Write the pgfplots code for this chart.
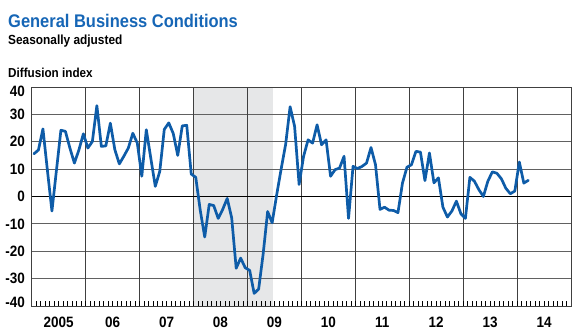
\documentclass[border=0pt]{standalone}
\usepackage{pgfplots}
\pgfplotsset{compat=1.18}
\usepackage{fontspec}
\setmainfont{Liberation Sans}[FakeStretch=0.9]
\definecolor{lineblue}{RGB}{14,92,168}
\definecolor{titleblue}{RGB}{22,102,182}
\definecolor{recess}{RGB}{230,231,232}
\begin{document}
\begin{tikzpicture}
\path (0,0) rectangle (580pt,331pt);
\node[anchor=base west, inner sep=0pt, text=titleblue] at (8pt,303pt) {\fontsize{18.3}{20}\selectfont\bfseries General Business Conditions};
\node[anchor=base west, inner sep=0pt] at (8pt,286pt) {\fontsize{13.2}{15}\selectfont\bfseries Seasonally adjusted};
\node[anchor=base west, inner sep=0pt] at (8pt,253pt) {\fontsize{13}{15}\selectfont\bfseries Diffusion index};
\begin{axis}[
  set layers,
  at={(31.7pt,25pt)}, anchor=south west,
  scale only axis, width=539.3pt, height=219pt,
  xmin=0, xmax=120, ymin=-40, ymax=40,
  axis line style={black!75, line width=0.8pt},
  xtick={6,18,...,114},
  xticklabels={2005,06,07,08,09,10,11,12,13,14},
  minor xtick={0,...,120},
  xtick align=inside,
  major tick length=0pt,
  minor tick length=4.5pt,
  minor tick style={black, line width=0.5pt},
  tick pos=left,
  ytick={-40,-30,...,40},
  yticklabels={\raisebox{4pt}{-40},-30,-20,-10,0,10,20,30,\raisebox{-4pt}{40}},
  ymajorgrids=true,
  major grid style={black!62, line width=0.8pt},
  extra x ticks={12,24,...,108},
  extra x tick labels={},
  extra x tick style={grid=major, major grid style={black!75, line width=0.8pt}},
  extra y ticks={0},
  extra y tick labels={},
  extra y tick style={grid=major, major grid style={black, line width=1.5pt}},
  xticklabel style={anchor=base, yshift=-21.4pt, inner sep=0pt, font=\fontsize{15}{17}\selectfont\bfseries},
  yticklabel style={anchor=base east, yshift=-5.2pt, xshift=-6.5pt, inner sep=0pt, font=\fontsize{15}{17}\selectfont\bfseries},
]
\addplot[on layer=axis background, draw=none, fill=recess] coordinates {(36,-40) (36,40) (53.6,40) (53.6,-40)};
\addplot[lineblue, line width=2.7pt, line join=round, line cap=round] coordinates {
(0.5,15.6) (1.5,17.0) (2.5,24.7) (3.5,9.5) (4.5,-5.3) (5.5,9.5) (6.5,24.2) (7.5,23.8) (8.5,17.7) (9.5,12.2) (10.5,17.0) (11.5,22.9)
(12.5,17.7) (13.5,20.1) (14.5,33.2) (15.5,18.3) (16.5,18.5) (17.5,26.8) (18.5,17.1) (19.5,11.9) (20.5,14.7) (21.5,17.7) (22.5,23.1) (23.5,19.5)
(24.5,7.4) (25.5,24.4) (26.5,14.0) (27.5,3.7) (28.5,9.2) (29.5,24.5) (30.5,26.9) (31.5,23.0) (32.5,15.0) (33.5,25.8) (34.5,26.0) (35.5,8.2)
(36.5,7.0) (37.5,-5.0) (38.5,-14.8) (39.5,-2.9) (40.5,-3.3) (41.5,-8.0) (42.5,-4.7) (43.5,-0.7) (44.5,-7.8) (45.5,-26.2) (46.5,-22.5) (47.5,-26.0)
(48.5,-27.0) (49.5,-35.4) (50.5,-33.8) (51.5,-21.0) (52.5,-5.5) (53.5,-9.6) (54.5,0.5) (55.5,10.0) (56.5,19.0) (57.5,32.8) (58.5,25.6) (59.5,4.4)
(60.5,14.7) (61.5,20.7) (62.5,19.5) (63.5,26.2) (64.5,18.9) (65.5,20.7) (66.5,7.4) (67.5,9.8) (68.5,10.4) (69.5,14.7) (70.5,-8.0) (71.5,11.0)
(72.5,10.2) (73.5,11.0) (74.5,12.2) (75.5,17.9) (76.5,11.6) (77.5,-4.7) (78.5,-3.9) (79.5,-5.0) (80.5,-5.1) (81.5,-5.9) (82.5,4.9) (83.5,10.7)
(84.5,11.6) (85.5,16.5) (86.5,16.2) (87.5,5.8) (88.5,15.9) (89.5,5.0) (90.5,6.8) (91.5,-3.9) (92.5,-7.5) (93.5,-5.3) (94.5,-1.7) (95.5,-6.3)
(96.5,-8.0) (97.5,7.0) (98.5,5.6) (99.5,2.5) (100.5,0.0) (101.5,5.6) (102.5,9.0) (103.5,8.5) (104.5,6.5) (105.5,3.0) (106.5,1.0) (107.5,2.0)
(108.5,12.6) (109.5,4.9) (110.5,5.9)
};
\end{axis}
\end{tikzpicture}
\end{document}
